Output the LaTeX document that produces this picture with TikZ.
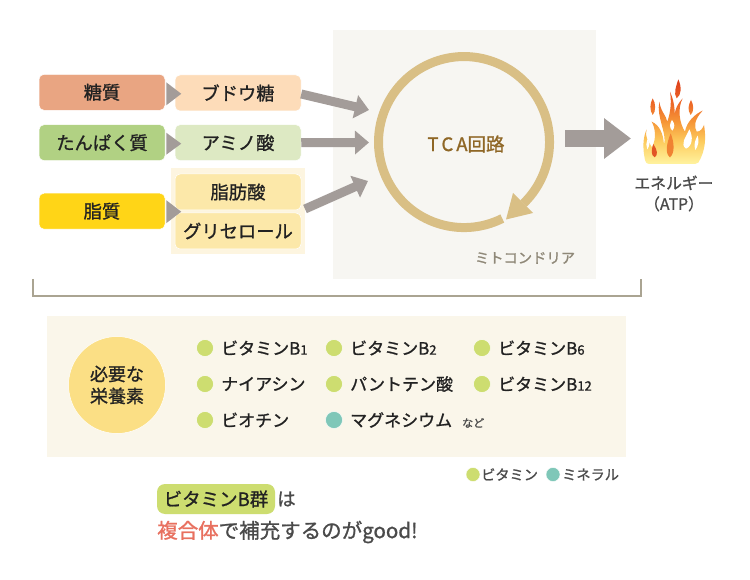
\documentclass[tikz,border=0pt]{standalone}
\usepackage{fontspec}
\setmainfont{Noto Sans CJK JP}[FakeBold=1.1]
\usetikzlibrary{arrows.meta,calc}
\newcommand{\fsz}[1]{\fontsize{#1}{#1}\selectfont}
\definecolor{arrowgray}{HTML}{A39C99}
\definecolor{ink}{HTML}{222222}
\definecolor{softink}{HTML}{4A4A4A}
\definecolor{ringtan}{HTML}{D9BF85}
\definecolor{vitgreen}{HTML}{CDDD70}
\definecolor{mintteal}{HTML}{7FC7B8}
\definecolor{flameY}{RGB}{255,243,160}
\definecolor{flameL}{RGB}{253,205,95}
\definecolor{flameO}{RGB}{246,150,55}
\definecolor{flameD}{RGB}{236,100,38}
\definecolor{flameR}{RGB}{222,62,28}
\definecolor{flamea}{RGB}{226,84,36}
\definecolor{flameb}{RGB}{240,130,50}
\pgfdeclareverticalshading{flamegrad}{100bp}{color(0bp)=(flameY); color(25bp)=(flameY); color(38bp)=(flameL); color(50bp)=(flameO); color(62bp)=(flameD); color(75bp)=(flameR); color(100bp)=(flameR)}
\tikzset{
  boxbase/.style={rounded corners=5pt,minimum width=126pt,minimum height=36pt,inner sep=0pt,text=ink,font=\fsz{18.3},draw=white,line width=.5pt},
  flowarrow/.style={draw=arrowgray,line width=9pt,-{Triangle[length=14pt,width=23pt]}},
  chevron/.style={fill=arrowgray},
  dotv/.style={circle,fill=vitgreen,draw=white,line width=.4pt,minimum size=17pt,inner sep=0pt},
  dotm/.style={circle,fill=mintteal,draw=white,line width=.4pt,minimum size=17pt,inner sep=0pt},
  itemlabel/.style={anchor=west,inner sep=0pt,text=ink,font=\fsz{17}},
  legendlabel/.style={anchor=west,inner sep=0pt,text=softink,font=\fsz{14.2}},
}
\begin{document}
\begin{tikzpicture}[x=1pt,y=-1pt]
\useasboundingbox (0,0) rectangle (750,580);
\fill[white] (0,0) rectangle (750,580);
% panels
\fill[fill={rgb,255:red,247;green,246;blue,242}] (333,30) rectangle (595.5,279);
\fill[fill={rgb,255:red,253;green,245;blue,224}] (171,168.5) rectangle (305,254);
\fill[fill={rgb,255:red,250;green,246;blue,234}] (47,316) rectangle (626,457);
% left boxes
\node[boxbase,fill={rgb,255:red,233;green,165;blue,130}] (sugar) at (102,92.3) {糖質};
\node[boxbase,fill={rgb,255:red,253;green,220;blue,185}] (glucose) at (238,93) {ブドウ糖};
\node[boxbase,fill={rgb,255:red,177;green,209;blue,131}] (protein) at (102,142.7) {たんぱく質};
\node[boxbase,fill={rgb,255:red,221;green,233;blue,195}] (amino) at (238,142.7) {アミノ酸};
\node[boxbase,fill={rgb,255:red,255;green,213;blue,23}] (fat) at (102,211.2) {脂質};
\node[boxbase,fill={rgb,255:red,252;green,232;blue,169}] (fatty) at (238,192) {脂肪酸};
\node[boxbase,fill={rgb,255:red,252;green,232;blue,169}] (glycerol) at (238,231) {グリセロール};
% chevrons
\fill[chevron] ($(sugar.east)+(1,-10)$) -- ++(0,23) -- ++(15,-11.5) -- cycle;
\fill[chevron] ($(protein.east)+(1,-10)$) -- ++(0,22) -- ++(15,-11) -- cycle;
\fill[chevron] ($(fat.east)+(1,-11)$) -- ++(0,23) -- ++(15,-11.5) -- cycle;
% TCA ring
\node[inner sep=0pt,text={rgb,255:red,143;green,103;blue,38},font=\fsz{18.5}] (tca) at (466,144) {T\kern3pt C\kern3pt A回路};
\coordinate (in1) at (369,110);
\coordinate (in2) at (369,142.5);
\coordinate (in3) at (368,181);
\coordinate (fatout) at (305,209);
\draw[flowarrow] (glucose.east |- 0,94) -- (in1);
\draw[flowarrow] (amino.east) -- (in2);
\draw[flowarrow] (fatout) -- (in3);
\draw[draw=ringtan,line width=9pt] (502.3,218.5) arc[start angle=-63.4,end angle=-406,radius=85.5pt];
\fill[ringtan] (506,219.5) -- (513,193) -- (533,213) -- cycle;
\node[inner sep=0pt,text={rgb,255:red,143;green,136;blue,120},font=\fsz{14.3}] (mito) at (525,258) {ミトコンドリア};
% out arrow
\coordinate (outstart) at (565,138.5);
\coordinate (outend) at (631,138.5);
\draw[draw=arrowgray,line width=17pt,-{Triangle[length=27pt,width=39pt]}] (outstart) -- (outend);
% flame
\begin{scope}[shift={(630,70)},x=.3333pt,y=-.3333pt]
\shade[shading=flamegrad]
 (45,270) .. controls (38,235) and (38,205) .. (50,178) .. controls (44,205) and (56,215) .. (66,232)
 .. controls (80,205) and (76,175) .. (65,155) .. controls (88,165) and (100,190) .. (102,225)
 .. controls (112,190) and (78,140) .. (88,95) .. controls (92,125) and (108,135) .. (112,155)
 .. controls (124,120) and (124,90) .. (120,65) .. controls (136,100) and (134,130) .. (135,150)
 .. controls (130,120) and (145,100) .. (158,85) .. controls (142,115) and (148,160) .. (165,185)
 .. controls (170,155) and (195,132) .. (218,122) .. controls (192,150) and (192,170) .. (200,185)
 .. controls (212,185) and (218,175) .. (222,165) .. controls (228,200) and (228,240) .. (205,278)
 .. controls (202,282) and (198,282) .. (195,282)
 -- (60,282) .. controls (50,282) and (46,277) .. (45,270) -- cycle
 (145,28) .. controls (155,50) and (155,75) .. (140,85) .. controls (130,70) and (138,50) .. (145,28) -- cycle
 (68,85) .. controls (78,100) and (78,125) .. (68,135) .. controls (58,120) and (60,100) .. (68,85) -- cycle
 (183,90) .. controls (192,105) and (192,125) .. (182,135) .. controls (172,120) and (175,105) .. (183,90) -- cycle;
% white cut-outs
\fill[white] (126,150) .. controls (120,160) and (116,172) .. (127,182) .. controls (136,172) and (134,160) .. (126,150) -- cycle;
\fill[white] (178,178) .. controls (166,205) and (150,222) .. (168,236) .. controls (188,228) and (190,200) .. (178,178) -- cycle;
\fill[white] (203,197) .. controls (208,212) and (205,228) .. (196,240) .. controls (190,225) and (196,208) .. (203,197) -- cycle;
\fill[white] (52,208) .. controls (60,218) and (60,226) .. (52,238) .. controls (48,228) and (48,218) .. (52,208) -- cycle;
% inner flames
\fill[flamea] (70,222) .. controls (82,240) and (85,255) .. (74,262) .. controls (62,255) and (64,240) .. (70,222) -- cycle;
\fill[flameb] (122,190) .. controls (134,220) and (134,250) .. (120,262) .. controls (104,250) and (110,220) .. (122,190) -- cycle;
\end{scope}
\node[inner sep=0pt,align=center,text=softink,font=\fsz{15.8}] (energy) at (674,193.5) {エネルギー\\[5pt]（ATP）};
% bracket
\coordinate (brL) at (33,279);
\coordinate (brR) at (641,279);
\draw[draw={rgb,255:red,170;green,164;blue,146},line width=1.2pt] (brL) -- (33,296) -- (641,296) -- (brR);
% nutrients
\node[circle,fill={rgb,255:red,251;green,223;blue,133},draw=white,line width=.5pt,minimum size=97pt,inner sep=0pt,align=center,text=ink,font=\fsz{18}] (need) at (117,385) {必要な\\[4pt]栄養素};
\node[dotv] (d1) at (205,348) {};
\node[dotv] (d2) at (334,348) {};
\node[dotv] (d3) at (482,348) {};
\node[dotv] (d4) at (205,384) {};
\node[dotv] (d5) at (334,384) {};
\node[dotv] (d6) at (482,384) {};
\node[dotv] (d7) at (205,420) {};
\node[dotm] (d8) at (334,420) {};
\node[itemlabel] (t1) at (221,348) {ビタミンB{\fsz{13}1}};
\node[itemlabel] (t2) at (350,348) {ビタミンB{\fsz{13}2}};
\node[itemlabel] (t3) at (498,348) {ビタミンB{\fsz{13}6}};
\node[itemlabel] (t4) at (221,384) {ナイアシン};
\node[itemlabel] (t5) at (350,384) {パントテン酸};
\node[itemlabel] (t6) at (498,384) {ビタミンB{\fsz{13}12}};
\node[itemlabel] (t7) at (221,420) {ビオチン};
\node[itemlabel] (t8) at (350,420) {マグネシウム};
\node[inner sep=0pt,anchor=west,text=softink,font=\fsz{11}] (nado) at (462,423) {など};
% legend
\node[dotv,minimum size=14pt] (l1) at (473,474.5) {};
\node[legendlabel] (lt1) at (481,474.5) {ビタミン};
\node[dotm,minimum size=14pt] (l2) at (553,474.5) {};
\node[legendlabel] (lt2) at (562,474.5) {ミネラル};
% note
\node[fill=vitgreen,rounded corners=8pt,minimum width=118pt,minimum height=30pt,inner sep=0pt,text=ink,font=\fsz{18.5}] (hl) at (216,499) {ビタミンB群};
\node[inner sep=0pt,anchor=west,text=softink,font=\fsz{18.5}] (wa) at (277,499) {は};
\node[inner sep=0pt,anchor=west,text=softink,font=\fsz{20.5}] (line2) at (157,532) {\textcolor[HTML]{E8705F}{複合体}で補充するのがgood!};
\end{tikzpicture}
\end{document}
